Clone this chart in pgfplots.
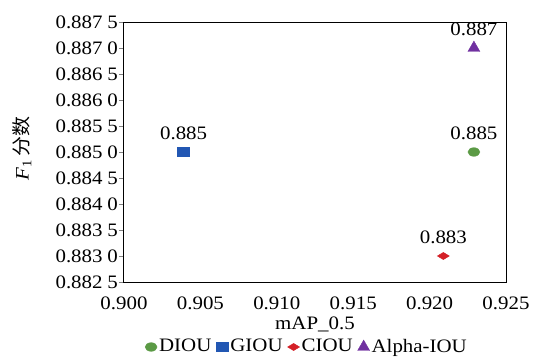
\documentclass[border=0pt]{standalone}
\usepackage{fontspec}
\setmainfont[FakeStretch=1.1]{Liberation Serif}
\newfontfamily\cjk[FakeStretch=1.05]{Noto Sans CJK SC}
\usepackage{pgfplots}
\pgfplotsset{compat=1.18}
\definecolor{cgreen}{HTML}{5B9A45}
\definecolor{cblue}{HTML}{2257B3}
\definecolor{cred}{HTML}{D42027}
\definecolor{cpurple}{HTML}{7030A0}
\newcommand{\fs}{\fontsize{19}{22}\selectfont}
\begin{document}
\fs
\begin{tikzpicture}
\begin{axis}[
  scale only axis,
  width=382pt, height=260pt,
  xmin=0.900, xmax=0.925,
  ymin=0.8825, ymax=0.8875,
  xtick={0.900,0.905,0.910,0.915,0.920,0.925},
  xticklabels={0.900,0.905,0.910,0.915,0.920,0.925},
  ytick={0.8825,0.8830,0.8835,0.8840,0.8845,0.8850,0.8855,0.8860,0.8865,0.8870,0.8875},
  yticklabels={0.882\hspace{0.25em}5,0.883\hspace{0.25em}0,0.883\hspace{0.25em}5,0.884\hspace{0.25em}0,0.884\hspace{0.25em}5,0.885\hspace{0.25em}0,0.885\hspace{0.25em}5,0.886\hspace{0.25em}0,0.886\hspace{0.25em}5,0.887\hspace{0.25em}0,0.887\hspace{0.25em}5},
  /pgf/number format/assume math mode=true,
  tick label style={font=\fs},
  xtick style={draw=none},
  ytick pos=left, tick align=outside,
  major tick length=5pt,
  ytick style={line width=0.9pt},
  yticklabel style={anchor=east, inner sep=0pt, xshift=-1pt},
  xticklabel style={anchor=base, inner sep=0pt, yshift=-22.5pt},
  xlabel={mAP\_0.5},
  ylabel={\textit{F}\textsubscript{1}\,{\cjk 分数}},
  xlabel style={at={(axis description cs:0.5,0)}, anchor=base, yshift=-47pt, font=\fs, inner sep=0pt},
  ylabel style={at={(axis description cs:-0.267,0.515)}, anchor=center, font=\fs, inner sep=0pt},
  axis line style={line width=1pt},
  legend columns=4,
  legend style={draw=none, fill=none, at={(0.479,-0.25)}, anchor=center, font=\fs,
    inner sep=0pt,
    /tikz/every even column/.append style={column sep=3pt},
    /tikz/every odd column/.append style={column sep=0pt}},
  legend image code/.code={\draw[#1] plot coordinates {(0pt,0pt)};},
  legend cell align=left,
  nodes near coords,
  point meta=explicit symbolic,
  every node near coord/.style={anchor=base, yshift=13pt, black, font=\fs, inner sep=0pt},
]
\addplot[only marks, mark=*, mark size=6pt, mark options={yscale=0.72}, color=cgreen] coordinates {(0.9229,0.885)[0.885]};
\addlegendentry{DIOU}
\addplot[only marks, mark=square*, mark size=6pt, mark options={yscale=0.72}, color=cblue] coordinates {(0.9039,0.885)[0.885]};
\addlegendentry{GIOU}
\addplot[only marks, mark=diamond*, mark size=8pt, mark options={yscale=0.45}, color=cred] coordinates {(0.9209,0.883)[0.883]};
\addlegendentry{CIOU}
\addplot[only marks, mark=triangle*, mark size=6.9pt, color=cpurple] coordinates {(0.9229,0.887)[0.887]};
\addlegendentry{Alpha-IOU}
\end{axis}
\pgfresetboundingbox
\path (current axis.south west) ++(-124pt,-79pt) rectangle ++(535pt,361pt);
\end{tikzpicture}
\end{document}
